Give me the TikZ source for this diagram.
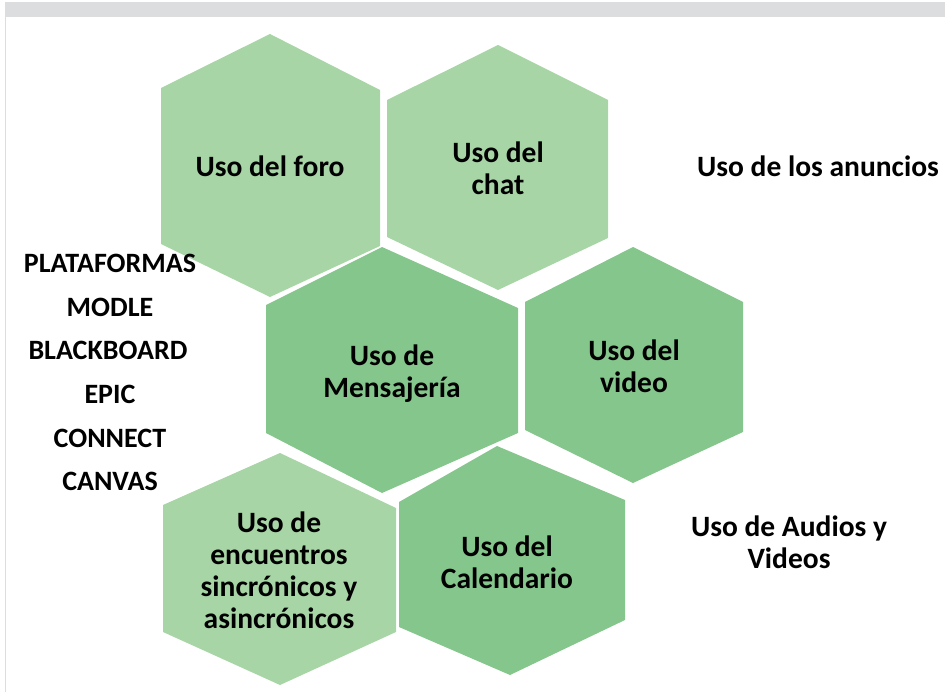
\documentclass[tikz,border=0pt]{standalone}
\usepackage{fontspec}
\setmainfont{Carlito}
\usepackage{xcolor}
\usetikzlibrary{positioning}

\definecolor{hexLight}{RGB}{168,213,166}
\definecolor{hexDark}{RGB}{133,198,140}
\definecolor{frameGray}{RGB}{220,221,223}

\begin{document}
\begin{tikzpicture}[
    x=1pt, y=-1pt,
    hexlight/.style={fill=hexLight},
    hexdark/.style={fill=hexDark},
    hextext/.style={font=\bfseries\fontsize{29.5}{32}\selectfont, align=center, text=black},
    platform/.style={font=\bfseries\fontsize{28}{32}\selectfont, anchor=base}
]
\useasboundingbox (0,0) rectangle (945,692);

% frame of the slide
\fill[frameGray] (5,2) rectangle (945,17);
\draw[frameGray, line width=1.3pt] (5.6,17) -- (5.6,692);

% hexagons
\fill[hexlight] (270,34) -- (161,88) -- (161,244) -- (270,297) -- (380,246) -- (380,90) -- cycle;
\fill[hexlight] (498,45) -- (387,100) -- (387,237) -- (498,290) -- (608,238) -- (608,100) -- cycle;
\fill[hexdark] (382,247) -- (266,305) -- (266,433) -- (382,493) -- (518,433) -- (518,308) -- cycle;
\fill[hexdark] (633,247) -- (525,302) -- (525,430) -- (633,483) -- (743,432) -- (743,302) -- cycle;
\fill[hexlight] (280,453) -- (163,505) -- (163,632) -- (280,685) -- (396,632) -- (396,508) -- cycle;
\fill[hexdark] (497,446) -- (399,502) -- (399,627) -- (510,675) -- (625,620) -- (625,500) -- cycle;

% texts inside the hexagons
\node[hextext] (foro) at (270,166) {Uso del foro};
\node[hextext] (chat) at (498,168) {Uso del\\chat};
\node[hextext] (msg) at (392,374) {Uso de\\Mensajería};
\node[hextext] (video) at (634,366) {Uso del\\video};
\node[hextext] (meet) at (279,570) {Uso de\\encuentros\\sincrónicos y\\asincrónicos};
\node[hextext] (cal) at (507,562) {Uso del\\Calendario};

% texts beside
\node[hextext] (anuncios) at (818,166) {Uso de los anuncios};
\node[hextext] (audios) at (789,542) {Uso de Audios y\\Videos};

% list of platforms
\node[platform] (plat) at (110,273) {PLATAFORMAS};
\node[platform] (modle) at (110,317) {MODLE};
\node[platform] (black) at (108,360) {BLACKBOARD};
\node[platform] (epic) at (110,403) {EPIC};
\node[platform] (connect) at (110,447) {CONNECT};
\node[platform] (canvas) at (110,490) {CANVAS};
\end{tikzpicture}
\end{document}
